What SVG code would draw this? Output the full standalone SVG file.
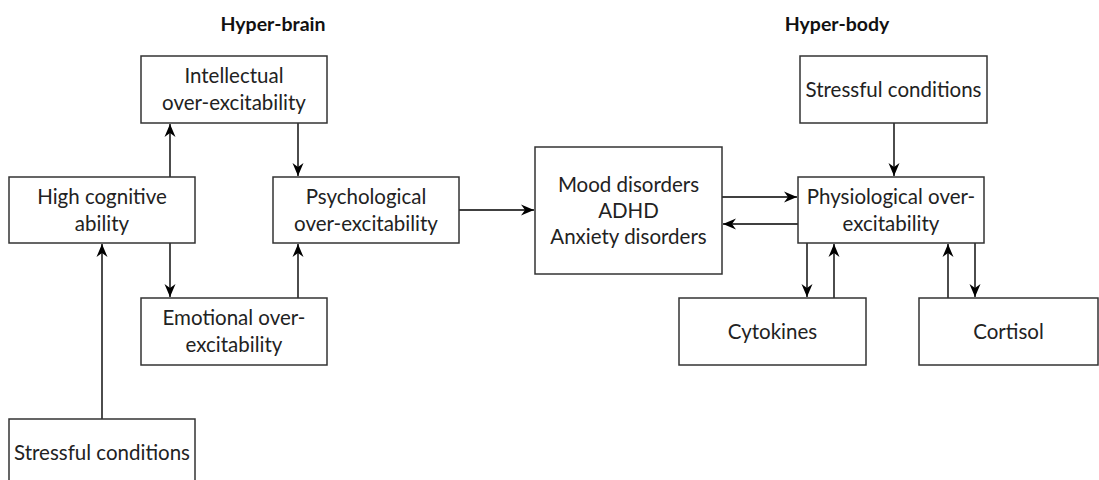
<svg xmlns="http://www.w3.org/2000/svg" width="1099" height="480" viewBox="0 0 1099 480">
<defs>
<marker id="ah" markerUnits="userSpaceOnUse" markerWidth="14" markerHeight="12" viewBox="0 0 14 12" refX="13" refY="6" orient="auto">
<path d="M0,0.5 L13,6 L0,11.5 L4,6 Z" fill="#000"/>
</marker>
<style>
.box{fill:#fff;stroke:#333;stroke-width:1.5}
.t{font-family:Lato,"Liberation Sans",sans-serif;font-size:20.5px;fill:#222;text-anchor:middle}
.h{font-family:Lato,"Liberation Sans",sans-serif;font-size:19.5px;font-weight:bold;fill:#111;text-anchor:middle}
.c{stroke:#000;stroke-width:1.4;fill:none;marker-end:url(#ah)}
</style>
</defs>
<rect width="1099" height="480" fill="#fff"/>
<text class="h" x="273" y="31">Hyper-brain</text>
<text class="h" x="837" y="31">Hyper-body</text>
<g id="connectors">
<line class="c" x1="170" y1="177" x2="170" y2="124"/>
<line class="c" x1="298" y1="123" x2="298" y2="176"/>
<line class="c" x1="170" y1="243" x2="170" y2="297"/>
<line class="c" x1="298" y1="298" x2="298" y2="244"/>
<line class="c" x1="102" y1="419" x2="102" y2="244"/>
<line class="c" x1="459" y1="210" x2="534" y2="210"/>
<line class="c" x1="722" y1="197" x2="797" y2="197"/>
<line class="c" x1="798" y1="224" x2="723" y2="224"/>
<line class="c" x1="894" y1="123" x2="894" y2="176"/>
<line class="c" x1="807" y1="243" x2="807" y2="297"/>
<line class="c" x1="834" y1="298" x2="834" y2="244"/>
<line class="c" x1="948" y1="298" x2="948" y2="244"/>
<line class="c" x1="975" y1="243" x2="975" y2="297"/>
</g>
<g id="intellectual">
<rect class="box" x="141" y="56" width="186" height="67"/>
<text class="t" x="234" y="83">Intellectual</text>
<text class="t" x="234" y="110">over-excitability</text>
</g>
<g id="high-cognitive">
<rect class="box" x="9" y="177" width="186" height="66"/>
<text class="t" x="102" y="204">High cognitive</text>
<text class="t" x="102" y="231">ability</text>
</g>
<g id="psychological">
<rect class="box" x="273" y="177" width="186" height="66"/>
<text class="t" x="366" y="204">Psychological</text>
<text class="t" x="366" y="231">over-excitability</text>
</g>
<g id="emotional">
<rect class="box" x="141" y="298" width="186" height="67"/>
<text class="t" x="234" y="325">Emotional over-</text>
<text class="t" x="234" y="352">excitability</text>
</g>
<g id="stressful-left">
<rect class="box" x="9" y="419" width="186" height="67"/>
<text class="t" x="102" y="460">Stressful conditions</text>
</g>
<g id="mood">
<rect class="box" x="535" y="147" width="187" height="127"/>
<text class="t" x="628.5" y="192">Mood disorders</text>
<text class="t" x="628.5" y="218">ADHD</text>
<text class="t" x="628.5" y="244">Anxiety disorders</text>
</g>
<g id="stressful-right">
<rect class="box" x="800" y="56" width="187" height="67"/>
<text class="t" x="893.5" y="97">Stressful conditions</text>
</g>
<g id="physiological">
<rect class="box" x="798" y="177" width="186" height="66"/>
<text class="t" x="891" y="204">Physiological over-</text>
<text class="t" x="891" y="231">excitability</text>
</g>
<g id="cytokines">
<rect class="box" x="679" y="298" width="187" height="67"/>
<text class="t" x="772.5" y="339">Cytokines</text>
</g>
<g id="cortisol">
<rect class="box" x="919" y="298" width="179" height="67"/>
<text class="t" x="1008.5" y="339">Cortisol</text>
</g>
</svg>
